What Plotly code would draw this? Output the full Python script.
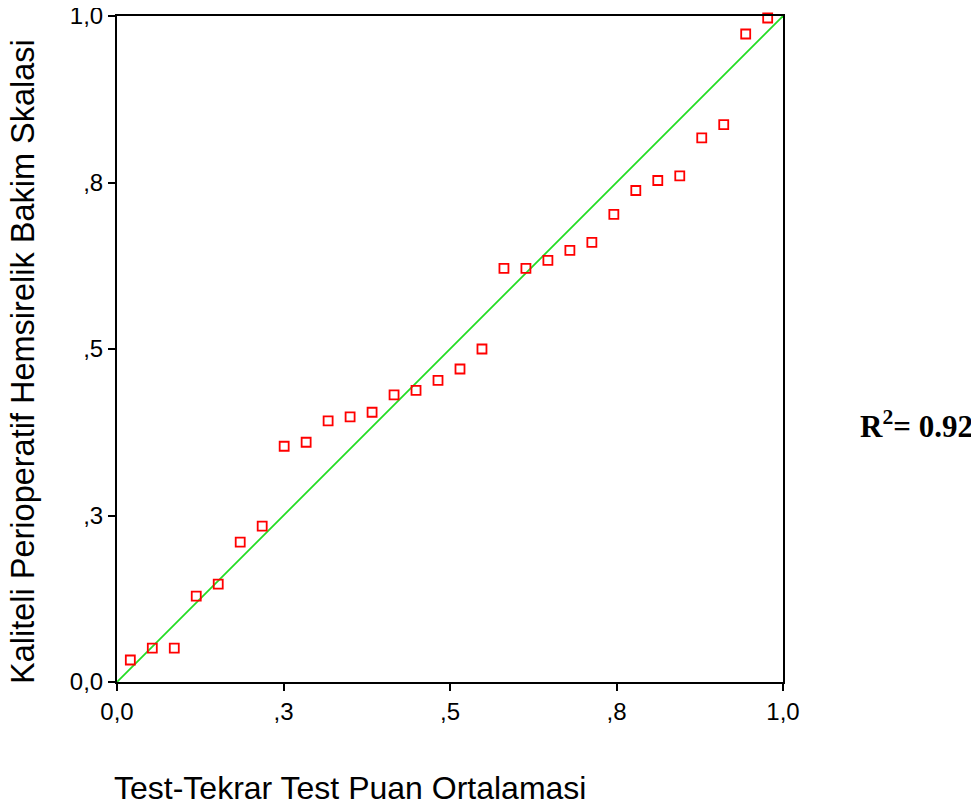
import plotly.graph_objects as go

# Data
x_vals = [0.020, 0.053, 0.086, 0.119, 0.152, 0.185, 0.218, 0.251, 0.284, 0.317,
          0.350, 0.383, 0.416, 0.449, 0.482, 0.515, 0.548, 0.581, 0.614, 0.647,
          0.680, 0.713, 0.746, 0.779, 0.812, 0.845, 0.878, 0.911, 0.944, 0.977]
y_vals = [0.033, 0.051, 0.051, 0.129, 0.147, 0.210, 0.234, 0.354, 0.360, 0.392,
          0.398, 0.405, 0.431, 0.438, 0.453, 0.470, 0.500, 0.621, 0.621, 0.633,
          0.648, 0.660, 0.702, 0.738, 0.753, 0.760, 0.817, 0.837, 0.973, 0.997]
line_x = [0.0, 1.0]
line_y = [0.0, 1.0]
tick_vals = [0.0, 0.25, 0.5, 0.75, 1.0]
tick_text = ["0,0", ",3", ",5", ",8", "1,0"]
x_title = "Test-Tekrar Test Puan Ortalamasi"
y_title = "Kaliteli Perioperatif Hemsirelik Bakim Skalasi"
r2_text = "<b>R<sup>2</sup>= 0.92</b>"

# page offset (default body margin of the html page)
OFF = 8
PL, PT, PW, PH = 117, 16, 666, 666  # plot area in page pixels

fig = go.Figure()
fig.add_trace(go.Scatter(x=line_x, y=line_y, mode="lines",
                         line=dict(color="#22dd22", width=1.8),
                         hoverinfo="skip", showlegend=False, cliponaxis=False))
fig.add_trace(go.Scatter(x=x_vals, y=y_vals, mode="markers",
                         marker=dict(symbol="square-open", size=9,
                                     color="#ff0000", line=dict(width=1.8, color="#ff0000")),
                         showlegend=False, cliponaxis=False))

axis_common = dict(range=[0, 1], tickvals=tick_vals, ticktext=tick_text,
                   showline=True, linecolor="black", linewidth=2, mirror=True,
                   ticks="outside", ticklen=7, tickwidth=1.5, tickcolor="black",
                   showgrid=False, zeroline=False, automargin=False,
                   ticklabeloverflow="allow",
                   tickfont=dict(family="Liberation Sans, Arial", size=24, color="black"))

W, H = 979 - OFF, 805 - OFF
fig.update_layout(
    width=W, height=H, autosize=False,
    margin=dict(l=PL - OFF, r=W - (PL - OFF) - PW, t=PT - OFF, b=H - (PT - OFF) - PH, pad=0),
    paper_bgcolor="white", plot_bgcolor="white",
    xaxis=dict(**axis_common),
    yaxis=dict(**axis_common),
    annotations=[
        dict(text=x_title, xref="paper", yref="paper", x=(350 - PL) / PW, y=-(788 - 682) / PH,
             xanchor="center", yanchor="middle", showarrow=False,
             font=dict(family="Liberation Sans, Arial", size=32, color="black")),
        dict(text=y_title, xref="paper", yref="paper", x=(23 - PL) / PW, y=(682 - 362) / PH,
             xanchor="center", yanchor="middle", showarrow=False, textangle=-90,
             font=dict(family="Liberation Sans, Arial", size=32.5, color="black")),
        dict(text=r2_text, xref="paper", yref="paper", x=(858 - PL) / PW, y=(682 - 424) / PH,
             xanchor="left", yanchor="middle", showarrow=False,
             font=dict(family="Liberation Serif, Times New Roman", size=31, color="black")),
    ],
)

fig.write_html("out.html")
